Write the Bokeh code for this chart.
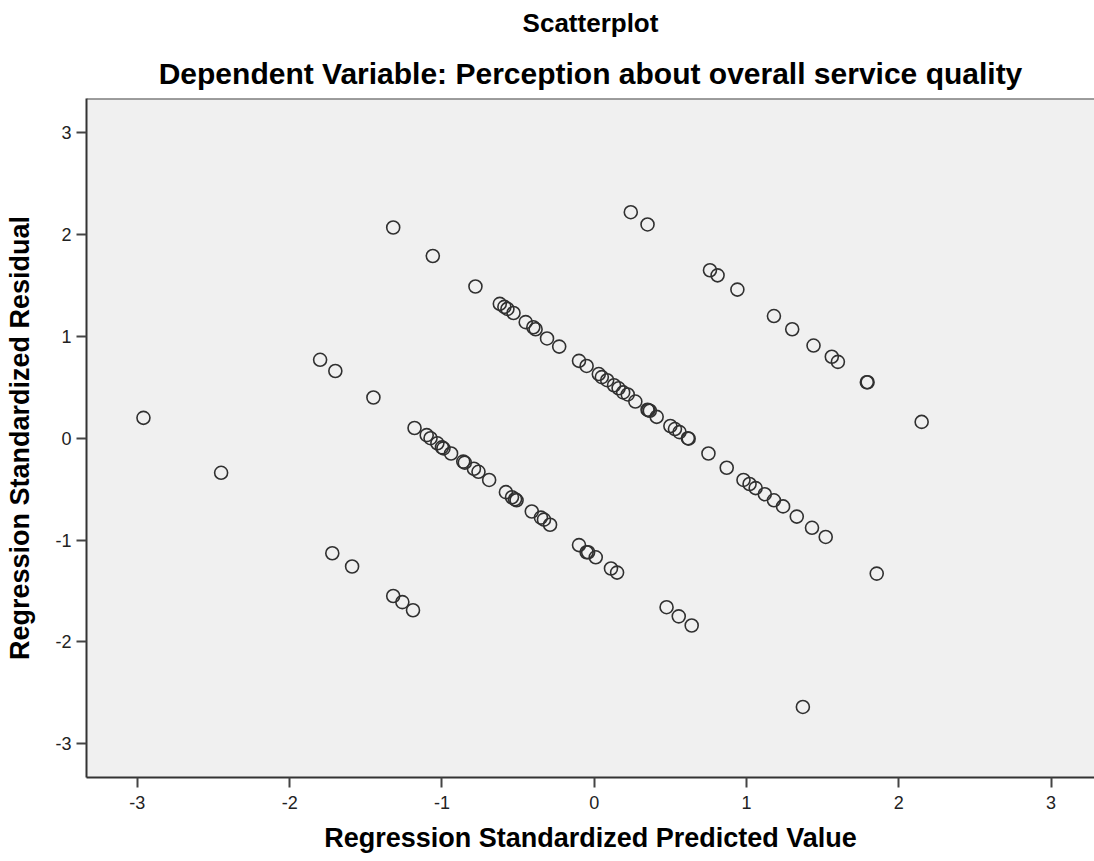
from bokeh.plotting import figure
from bokeh.models import Range1d, Title, Span, FixedTicker
from bokeh.embed import file_html
from bokeh.resources import INLINE

# Regression Standardized Predicted Value
pred = [
    -2.96, -2.45,
    -1.32, -1.06, -0.78,
    -0.62, -0.59, -0.57, -0.53, -0.45, -0.40, -0.385, -0.31, -0.23,
    -0.10, -0.05, 0.03, 0.05, 0.085, 0.13, 0.16, 0.19, 0.22, 0.27,
    0.35, 0.355, 0.365, 0.41, 0.50, 0.53, 0.56, 0.615, 0.62,
    0.75, 0.87, 0.98, 1.02, 1.06, 1.12, 1.18, 1.24, 1.33, 1.43, 1.52,
    -1.80, -1.70, -1.45, -1.18, -1.10, -1.075, -1.03, -1.00, -0.99, -0.94,
    -0.86, -0.85, -0.79, -0.76, -0.69, -0.58, -0.54, -0.52, -0.51,
    -0.41, -0.35, -0.33, -0.29, -0.10, -0.05, -0.04, 0.01, 0.11, 0.15,
    -1.72, -1.59, -1.32, -1.26, -1.19,
    0.475, 0.555, 0.64,
    0.24, 0.35, 0.76, 0.81, 0.94, 1.18, 1.30, 1.44, 1.56, 1.60, 1.79, 1.795, 2.15,
    1.855, 1.37,
]
# Regression Standardized Residual
resid = [
    0.20, -0.34,
    2.07, 1.79, 1.49,
    1.32, 1.29, 1.27, 1.23, 1.14, 1.09, 1.07, 0.98, 0.90,
    0.76, 0.71, 0.63, 0.60, 0.57, 0.52, 0.49, 0.45, 0.43, 0.36,
    0.28, 0.275, 0.27, 0.21, 0.12, 0.09, 0.06, 0.00, -0.005,
    -0.15, -0.29, -0.41, -0.45, -0.49, -0.55, -0.61, -0.67, -0.77, -0.88, -0.97,
    0.77, 0.66, 0.40, 0.10, 0.03, 0.00, -0.05, -0.09, -0.10, -0.15,
    -0.23, -0.24, -0.30, -0.33, -0.41, -0.53, -0.58, -0.60, -0.61,
    -0.72, -0.78, -0.80, -0.85, -1.05, -1.12, -1.12, -1.17, -1.28, -1.32,
    -1.13, -1.26, -1.55, -1.61, -1.69,
    -1.66, -1.75, -1.84,
    2.22, 2.10, 1.65, 1.60, 1.46, 1.20, 1.07, 0.91, 0.80, 0.75, 0.55, 0.55, 0.16,
    -1.33, -2.64,
]

tick_values = [-3, -2, -1, 0, 1, 2, 3]
tick_labels = ["-3", "-2", "-1", "0", "1", "2", "3"]
title_text = "Scatterplot"
subtitle_text = "Dependent Variable: Perception about overall service quality"
x_label = "Regression Standardized Predicted Value"
y_label = "Regression Standardized Residual"

FONT = "Liberation Sans"
x_lo, x_hi = -3.334, 3.285
y_lo, y_hi = -3.333, 3.337

p = figure(width=1094, height=861, output_backend="svg", toolbar_location=None,
           title=None,
           x_range=Range1d(x_lo, x_hi), y_range=Range1d(y_lo, y_hi),
           min_border_left=86, min_border_right=0, min_border_top=98,
           min_border_bottom=84)

p.background_fill_color = "#F0F0F0"
p.border_fill_color = "white"
p.outline_line_color = None
p.xgrid.visible = False
p.ygrid.visible = False

p.add_layout(Title(text=subtitle_text, align="center", text_font=FONT,
                   text_font_size="30px", text_font_style="bold",
                   text_color="black", standoff=17), "above")
p.add_layout(Title(text=title_text, align="center", vertical_align="top",
                   text_font=FONT, text_font_size="26px",
                   text_font_style="bold", text_color="black",
                   standoff=13), "above")

overrides = {v: s for v, s in zip(tick_values, tick_labels)}
for ax in (p.xaxis[0], p.yaxis[0]):
    ax.ticker = FixedTicker(ticks=tick_values)
    ax.major_label_overrides = overrides
    ax.minor_tick_line_color = None
    ax.major_tick_in = 0
    ax.major_tick_out = 10
    ax.major_tick_line_width = 2
    ax.major_tick_line_color = "#444444"
    ax.axis_line_width = 2
    ax.axis_line_color = "#333333"
    ax.major_label_text_font = FONT
    ax.major_label_text_font_size = "18px"
    ax.major_label_text_color = "#222222"
    ax.axis_label_text_font = FONT
    ax.axis_label_text_font_size = "27px"
    ax.axis_label_text_font_style = "bold"
    ax.axis_label_text_color = "black"

p.xaxis.axis_label = x_label
p.yaxis.axis_label = y_label
p.xaxis.major_label_standoff = 8
p.yaxis.major_label_standoff = 5
p.xaxis.axis_label_standoff = 11
p.yaxis.axis_label_standoff = 17

p.add_layout(Span(location=y_hi, dimension="width", line_color="#444444",
                  line_width=2))

p.scatter(pred, resid, marker="circle", size=13, fill_color=None,
          line_color="#303030", line_width=1.6)

open("out.html", "w").write(file_html(p, INLINE))
